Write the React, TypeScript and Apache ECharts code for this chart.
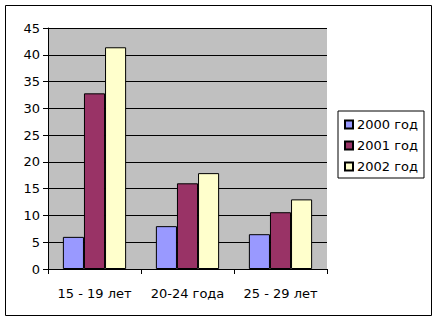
import React, { useEffect, useRef } from "react";
import * as echarts from "echarts";

const categories = ["15 - 19 лет", "20-24 года", "25 - 29 лет"];
const seriesNames = ["2000 год", "2001 год", "2002 год"];
const values2000 = [6, 8, 6.5];
const values2001 = [32.8, 16, 10.6];
const values2002 = [41.4, 17.9, 13];
const colors = ["#9999FF", "#993366", "#FFFFCC"];

export default function App() {
  const ref = useRef<HTMLDivElement>(null);
  useEffect(() => {
    if (!ref.current) return;
    const chart = echarts.init(ref.current, null, { renderer: "svg" });
    const font = "'DejaVu Sans', Verdana, sans-serif";
    const data = [values2000, values2001, values2002];
    chart.setOption({
      animation: false,
      backgroundColor: "#ffffff",
      textStyle: { fontFamily: font },
      grid: { left: 48, top: 28, width: 279, height: 241, containLabel: false, show: true, backgroundColor: "#C0C0C0", borderWidth: 0 },
      legend: {
        orient: "vertical",
        left: 338,
        top: 111,
        padding: [7, 6, 5, 6],
        itemGap: 8,
        itemWidth: 8,
        itemHeight: 8,
        icon: "rect",
        borderColor: "#000",
        borderWidth: 1,
        backgroundColor: "#fff",
        textStyle: { fontSize: 13, color: "#000", fontFamily: font, padding: [0, 0, 0, -1] },
        data: seriesNames,
      },
      xAxis: {
        type: "category",
        data: categories,
        axisLine: { lineStyle: { color: "#000", width: 1 } },
        axisTick: { show: true, length: 5, lineStyle: { color: "#000" } },
        axisLabel: { color: "#000", fontSize: 13, margin: 18, fontFamily: font, interval: 0, hideOverlap: false },
        splitLine: { show: false },
      },
      yAxis: {
        type: "value",
        min: 0,
        max: 45,
        interval: 5,
        axisLine: { show: true, lineStyle: { color: "#000", width: 1 } },
        axisTick: { show: true, length: 5, lineStyle: { color: "#000" } },
        axisLabel: { color: "#000", fontSize: 13, margin: 8, fontFamily: font },
        splitLine: { show: true, lineStyle: { color: "#000", width: 1 } },
      },
      series: seriesNames.map((name, i) => ({
        name,
        type: "bar",
        data: data[i],
        barGap: "0%",
        barCategoryGap: "32%",
        itemStyle: { color: colors[i], borderColor: "#000", borderWidth: 1 },
      })),
      graphic: [
        {
          type: "rect",
          shape: { x: 5.5, y: 5.5, width: 426, height: 310 },
          style: { fill: "none", stroke: "#000", lineWidth: 1 },
          z: 100,
        },
      ],
    });
    return () => chart.dispose();
  }, []);
  return <div ref={ref} style={{ position: "fixed", left: 0, top: 0, width: 436, height: 321 }} />;
}
